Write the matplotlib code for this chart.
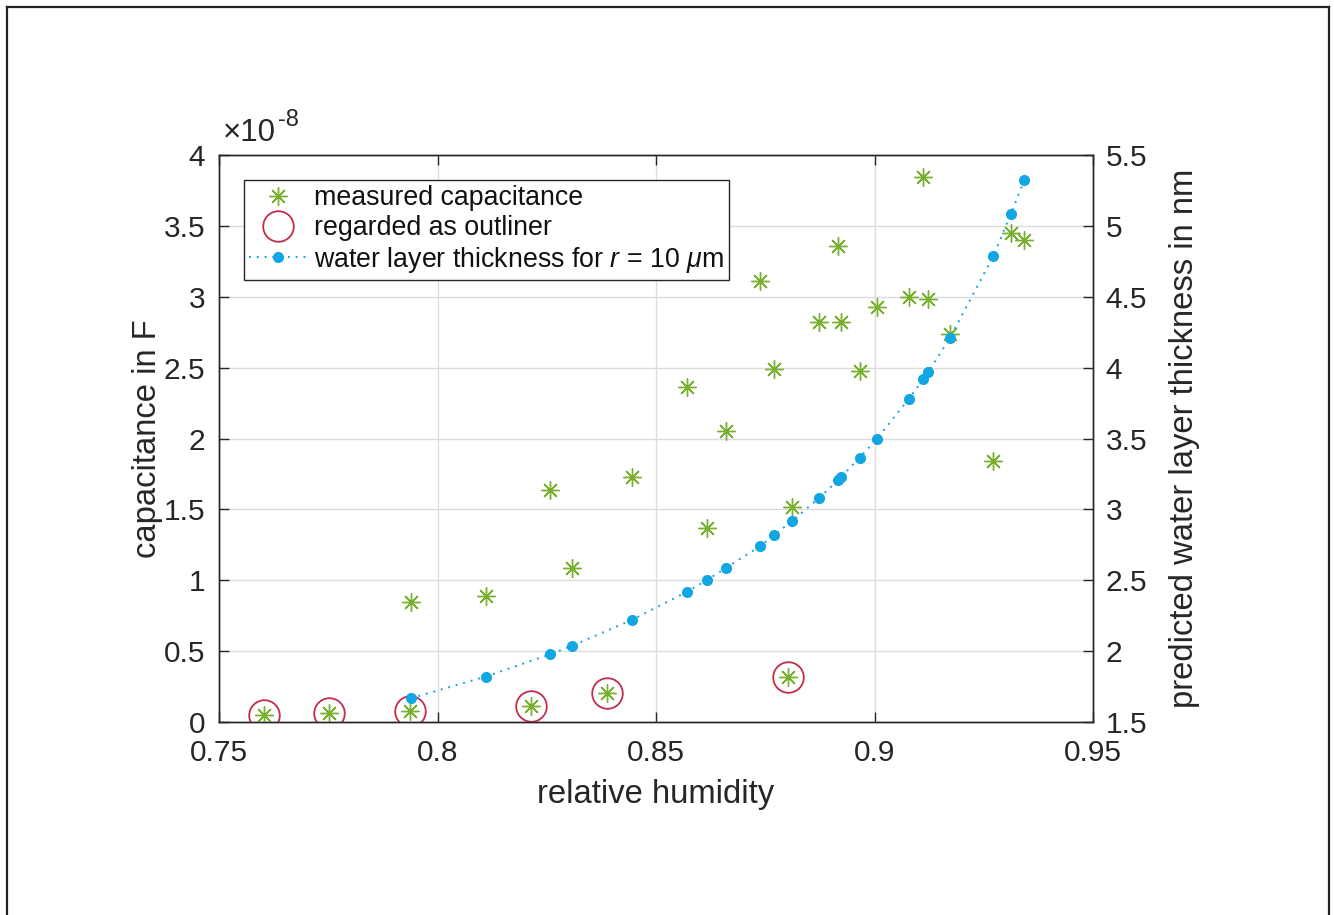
import matplotlib
matplotlib.use("Agg")
import matplotlib.pyplot as plt
from matplotlib.lines import Line2D
import numpy as np

plt.rcParams['font.family'] = ['Liberation Sans', 'DejaVu Sans']
plt.rcParams['mathtext.fontset'] = 'custom'
plt.rcParams['mathtext.rm'] = 'Liberation Sans'
plt.rcParams['mathtext.it'] = 'Liberation Sans:italic'

# ---- data ----
# measured capacitance (units of 1e-8 F) vs relative humidity
rh_meas = [0.7604, 0.7752, 0.7937, 0.7939, 0.8110, 0.8214, 0.8258, 0.8307,
           0.8389, 0.8446, 0.8571, 0.8616, 0.8661, 0.8739, 0.8771, 0.8801,
           0.8812, 0.8873, 0.8917, 0.8923, 0.8966, 0.9005, 0.9078, 0.9112,
           0.9123, 0.9172, 0.9272, 0.9312, 0.9343]
cap_e8 = [0.052, 0.064, 0.080, 0.844, 0.891, 0.115, 1.639, 1.089,
          0.207, 1.730, 2.365, 1.371, 2.052, 3.111, 2.490, 0.320,
          1.515, 2.824, 3.358, 2.820, 2.478, 2.930, 2.996, 3.847,
          2.986, 2.739, 1.843, 3.448, 3.400]

# points regarded as outliers
rh_out = [0.7604, 0.7752, 0.7937, 0.8214, 0.8389, 0.8801]
cap_out_e8 = [0.052, 0.064, 0.080, 0.115, 0.207, 0.320]

# predicted water layer thickness (nm) for r = 10 um
rh_pred = [0.7939, 0.8110, 0.8258, 0.8307, 0.8446, 0.8571, 0.8616, 0.8661,
           0.8739, 0.8771, 0.8812, 0.8873, 0.8917, 0.8923, 0.8966, 0.9005,
           0.9078, 0.9112, 0.9123, 0.9172, 0.9272, 0.9312, 0.9343]
thick_nm = [1.667, 1.820, 1.978, 2.036, 2.222, 2.419, 2.500, 2.589,
            2.742, 2.821, 2.920, 3.080, 3.207, 3.226, 3.365, 3.496,
            3.777, 3.922, 3.967, 4.207, 4.787, 5.084, 5.324]

x_ticks = [0.75, 0.8, 0.85, 0.9, 0.95]
y_left_ticks = [0, 0.5, 1, 1.5, 2, 2.5, 3, 3.5, 4]
y_right_ticks = [1.5, 2, 2.5, 3, 3.5, 4, 4.5, 5, 5.5]

GREEN = '#77B02E'
RED = '#C22D4B'
BLUE = '#12A6E2'
AX = '#262626'

TICK_FS = 21.5
LABEL_FS = 23.6
LEG_FS = 19.3

fig = plt.figure(figsize=(13.34, 9.15), dpi=100)
ax = fig.add_axes([219/1334, 1 - 722/915, 874/1334, 567/915])
ax2 = ax.twinx()

star = (8, 2, 0)
h1, = ax.plot(rh_meas, cap_e8, linestyle='none', marker=star, markersize=13,
              markeredgewidth=1.0, color=GREEN, zorder=3)
h2, = ax.plot(rh_out, cap_out_e8, linestyle='none', marker='o', markersize=22,
              markerfacecolor='none', markeredgecolor=RED, markeredgewidth=1.3, zorder=3)
h3, = ax2.plot(rh_pred, thick_nm, linestyle=(0, (1, 3)), linewidth=1.4, color=BLUE,
               marker='o', markersize=8, markeredgewidth=0, zorder=3)

ax.set_xlim(0.75, 0.95)
ax.set_ylim(0, 4)
ax2.set_ylim(1.5, 5.5)
ax.set_xticks(x_ticks)
ax.set_xticklabels(['%g' % v for v in x_ticks])
ax.set_yticks(y_left_ticks)
ax.set_yticklabels(['%g' % v for v in y_left_ticks])
ax2.set_yticks(y_right_ticks)
ax2.set_yticklabels(['%g' % v for v in y_right_ticks])

ax.grid(True, color='#dcdcdc', linewidth=1.0)
ax.set_axisbelow(True)

for a in (ax, ax2):
    for s in a.spines.values():
        s.set_color(AX)
        s.set_linewidth(1.0)
ax.tick_params(axis='x', direction='in', length=7, width=1.0, top=True, colors=AX,
               labelsize=TICK_FS, pad=12)
ax.tick_params(axis='y', direction='in', length=7, width=1.0, right=False, colors=AX,
               labelsize=TICK_FS, pad=10)
ax2.tick_params(axis='y', direction='in', length=7, width=1.0, colors=AX,
                labelsize=TICK_FS, pad=9)

ax.set_xlabel('relative humidity', fontsize=LABEL_FS, color=AX, labelpad=9)
ax.set_ylabel('capacitance in F', fontsize=LABEL_FS, color=AX, labelpad=0)
ax2.set_ylabel('predicted water layer thickness in nm', fontsize=LABEL_FS, color=AX,
               labelpad=16)

ax.text(0.004, 1.012, '\u00d710', transform=ax.transAxes, fontsize=TICK_FS + 1,
        color=AX, ha='left', va='bottom')
ax.text(0.067, 1.042, '-8', transform=ax.transAxes, fontsize=17,
        color=AX, ha='left', va='bottom')

leg = ax.legend([h1, h2, h3],
                ['measured capacitance', 'regarded as outliner',
                 'water layer thickness for $r$ = 10 $\\mu$m'],
                loc='upper left', bbox_to_anchor=(0.0286, 0.956), fontsize=LEG_FS,
                frameon=True, fancybox=False, framealpha=1, edgecolor=AX,
                borderpad=0.2, handlelength=2.1, handletextpad=0.3,
                labelspacing=0.14, borderaxespad=0)
leg.get_frame().set_linewidth(1.0)
for t in leg.get_texts():
    t.set_color('#111111')

# outer frame
fig.add_artist(Line2D([7/1334, 7/1334], [0, 1 - 7/915], transform=fig.transFigure,
                      color='#222222', linewidth=1.6))
fig.add_artist(Line2D([7/1334, 1329/1334], [1 - 7/915, 1 - 7/915],
                      transform=fig.transFigure, color='#222222', linewidth=1.6))
fig.add_artist(Line2D([1329/1334, 1329/1334], [0, 1 - 7/915], transform=fig.transFigure,
                      color='#222222', linewidth=1.6))

fig.savefig('out.png', dpi=100)
